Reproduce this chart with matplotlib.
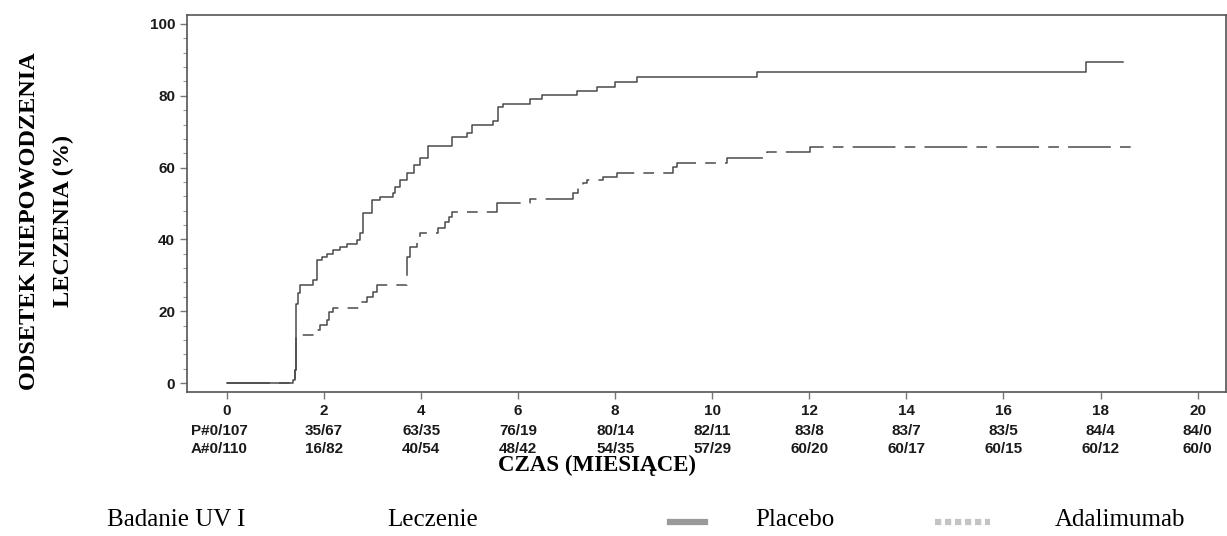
import matplotlib.pyplot as plt
from matplotlib.lines import Line2D
from matplotlib.ticker import MultipleLocator
import matplotlib.transforms as mtransforms

# months / cumulative treatment failure (%)
placebo_t = [0, 1.36, 1.40, 1.42, 1.46, 1.50, 1.77, 1.85, 1.96, 2.06, 2.18, 2.33,
             2.47, 2.68, 2.74, 2.80, 2.99, 3.15, 3.42, 3.46, 3.56, 3.71, 3.85,
             3.98, 4.14, 4.63, 4.95, 5.05, 5.48, 5.58, 5.68, 6.24, 6.49, 7.21,
             7.62, 7.99, 8.44, 10.92, 17.71, 18.46]
placebo_v = [0, 0.8, 3.6, 22.0, 25.0, 27.3, 28.7, 34.3, 35.1, 35.9, 37.0, 37.9,
             38.7, 39.8, 41.8, 47.3, 51.0, 51.8, 52.9, 54.6, 56.5, 58.5, 60.7,
             62.7, 66.0, 68.5, 69.6, 71.9, 73.0, 77.0, 77.7, 79.1, 80.2, 81.3,
             82.5, 83.8, 85.2, 86.6, 89.4, 89.4]

adal_t = [0, 1.36, 1.40, 1.42, 1.77, 1.92, 2.06, 2.10, 2.18, 2.74, 2.88, 3.01,
          3.09, 3.71, 3.77, 3.91, 3.98, 4.35, 4.50, 4.57, 4.63, 5.56, 6.24, 7.13,
          7.23, 7.33, 7.42, 7.74, 8.03, 9.19, 9.27, 10.30, 11.12, 12.01, 18.74]
adal_v = [0, 0.8, 3.6, 13.4, 14.8, 16.2, 17.5, 19.8, 20.9, 22.6, 24.0, 25.3,
          27.3, 35.1, 37.9, 40.7, 41.8, 43.2, 44.8, 46.2, 47.6, 50.1, 51.2, 52.9,
          54.3, 55.7, 56.5, 57.4, 58.5, 60.2, 61.3, 62.7, 64.3, 65.7, 65.7]

x_ticks = [0, 2, 4, 6, 8, 10, 12, 14, 16, 18, 20]
risk_placebo = ["P#0/107", "35/67", "63/35", "76/19", "80/14", "82/11",
                "83/8", "83/7", "83/5", "84/4", "84/0"]
risk_adal = ["A#0/110", "16/82", "40/54", "48/42", "54/35", "57/29",
             "60/20", "60/17", "60/15", "60/12", "60/0"]

fig = plt.figure(figsize=(12.27, 5.36), dpi=100)
ax = fig.add_axes([0.1524, 0.2687, 0.8466, 0.7033])

line_col = "#4a4a4a"
ax.step(placebo_t, placebo_v, where="post", color=line_col, lw=1.1)
ax.step(adal_t, adal_v, where="post", color=line_col, lw=1.1,
        linestyle=(0, (28, 6, 7, 6)))

ax.set_xlim(-0.824, 20.58)
ax.set_ylim(-2.5, 102.5)

for s in ax.spines.values():
    s.set_color("#555555")
    s.set_linewidth(1.2)

ax.set_xticks(x_ticks)
ax.set_yticks(range(0, 101, 20))
ax.yaxis.set_minor_locator(MultipleLocator(4))
ax.tick_params(axis="both", which="major", direction="out", color="#777777",
               length=5, width=1, labelsize=11, labelcolor="#1a1a1a")
ax.tick_params(axis="y", which="minor", direction="out", color="#999999",
               length=3, width=0.8)
ax.tick_params(axis="x", which="major", pad=4)
for lab in ax.get_xticklabels() + ax.get_yticklabels():
    lab.set_fontfamily("Liberation Sans")
    lab.set_fontweight("bold")

# numbers at risk below the axis
trans = mtransforms.blended_transform_factory(ax.transData, fig.transFigure)
risk_font = dict(fontsize=11, fontweight="bold", family="Liberation Sans",
                 color="#1a1a1a", va="center")
for i, t in enumerate(x_ticks):
    if i == 0:
        ax.text(t + 0.42, 1 - 431 / 536, risk_placebo[i], transform=trans,
                ha="right", **risk_font)
        ax.text(t + 0.42, 1 - 449 / 536, risk_adal[i], transform=trans,
                ha="right", **risk_font)
    else:
        ax.text(t, 1 - 431 / 536, risk_placebo[i], transform=trans,
                ha="center", **risk_font)
        ax.text(t, 1 - 449 / 536, risk_adal[i], transform=trans,
                ha="center", **risk_font)

serif = "Liberation Serif"
fig.text(597 / 1227, 1 - 465 / 536, "CZAS (MIESIĄCE)", family=serif,
         fontweight="bold", fontsize=16.5, ha="center", va="center")
fig.text(30 / 1227, 1 - 221 / 536, "ODSETEK NIEPOWODZENIA", family=serif,
         fontweight="bold", fontsize=17.5, rotation=90, ha="center", va="center")
fig.text(63 / 1227, 1 - 221 / 536, "LECZENIA (%)", family=serif,
         fontweight="bold", fontsize=17.5, rotation=90, ha="center", va="center")

# legend row at the bottom
leg_y = 1 - 520 / 536
leg_font = dict(family=serif, fontsize=18, va="center")
fig.text(107 / 1227, leg_y, "Badanie UV I", ha="left", **leg_font)
fig.text(387 / 1227, leg_y, "Leczenie", ha="left", **leg_font)
fig.text(755 / 1227, leg_y, "Placebo", ha="left", **leg_font)
fig.text(1055 / 1227, leg_y, "Adalimumab", ha="left", **leg_font)
fig.add_artist(Line2D([670 / 1227, 705 / 1227], [1 - 522 / 536] * 2,
                      transform=fig.transFigure, color="#9a9a9a", lw=4.5))
fig.add_artist(Line2D([935 / 1227, 990 / 1227], [1 - 522 / 536] * 2,
                      transform=fig.transFigure, color="#c4c4c4", lw=4.5,
                      linestyle=(0, (1.0, 0.6))))

fig.savefig("out.png", dpi=100)
